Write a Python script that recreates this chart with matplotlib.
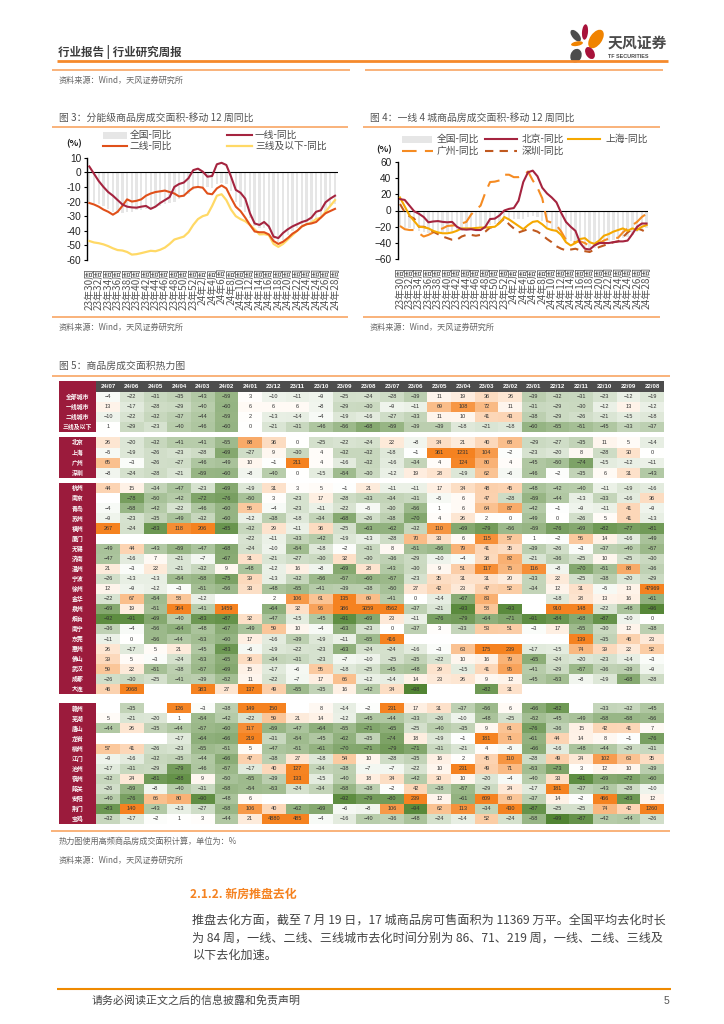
import numpy as np
import matplotlib
matplotlib.use("Agg")
import matplotlib.pyplot as plt
from matplotlib.colors import LinearSegmentedColormap, TwoSlopeNorm
from matplotlib.patches import Ellipse, Rectangle
from matplotlib.ticker import FuncFormatter

plt.rcParams['font.family'] = ['Noto Sans CJK SC', 'DejaVu Sans']
plt.rcParams['axes.unicode_minus'] = True
W, H = 724, 1024
NUM = ['Liberation Sans', 'Noto Sans CJK SC']

# ---------- chart data ----------
week_labels = ['23年30周','23年32周','23年34周','23年36周','23年38周','23年40周','23年42周','23年44周','23年46周',
               '23年48周','23年50周','23年52周','24年2周','24年4周','24年6周','24年8周','24年10周','24年12周',
               '24年14周','24年16周','24年18周','24年20周','24年22周','24年24周','24年24周','24年26周','24年28周']
national = [-20,-21,-22,-23,-25,-27,-28,-28,-27,-27,-26,-26,-25,-25,-24,-23,-22,-21,-20,-18,-17,-15,-12,-10,-10,-10,-11,-8,-7,-8,-13,-20,-24,-27,-31,-37,-38,-38,-39,-46,-48,-46,-43,-40,-38,-36,-35,-34,-32,-30,-27,-24,-22]
tier1 = [4,-1,-6,-10,-13.5,-16,-19,-22,-23.5,-24,-24.2,-23.5,-23,-25,-23.5,-21,-19,-17,-10,-8,-7,-4,1.5,2.5,0.5,-3,-2.5,5.5,6.5,5,-3,-12,-14,-18,-28,-35,-36,-34,-37,-44,-45,-41.5,-39,-37,-35.5,-34,-33,-31,-27,-26,-20.5,-18,-16]
tier2 = [-21,-22,-23.5,-25.5,-27,-29,-27,-23,-18.5,-20,-19.5,-18.5,-16,-14.5,-13.5,-13,-12.5,-13.5,-14.5,-16.5,-16,-13,-10.5,-10,-10.5,-14.5,-15,-11,-9,-11,-17.5,-23.5,-26.5,-31,-36,-40.5,-41,-41,-42.5,-47,-49,-47.5,-45,-42,-40,-37,-35.5,-35,-34,-31,-28,-26.5,-25]
tier3 = [-47,-48,-48.5,-49.3,-50.5,-52,-53.2,-53.5,-54.5,-56.3,-56,-55.3,-54.5,-53.7,-54,-53,-51.5,-49,-46,-45,-44,-41,-36,-32,-30,-29,-23,-16,-15,-19,-25.5,-30,-32,-33.5,-36,-39,-42.5,-42.3,-43,-49,-51,-49,-46,-43,-40,-37,-35.5,-34.5,-32,-31,-27,-23,-19]
beijing = [14,13,6,-1,-4,-8,-14.5,-13.5,-13,-14,-14.5,-14,-20,-23,-23.5,-23,-24,-24,-20,-10.5,-10,-6,0,2,3,12,35,47,49,42,28,21,16,10,-3,-14,-20,-25,-40,-47,-48,-43,-40,-40,-40,-39,-38,-38,-37,-29,-20,-16,-16]
shanghai = [16,5,-6,-13,-20,-20.5,-22,-25,-27,-28,-28,-27,-25,-22,-22,-22,-21.5,-21,-21,-20.5,-20,-15.5,-8,-11,-15,-19,-23,-18,-14,-13,-17,-22,-24,-25,-30,-39,-43,-40,-35,-34,-39,-41,-37,-31,-29,-26,-24,-22,-25,-22,-24,-20,-18]
guangzhou = [-19,-23,-24,-24,-28,-32,-30,-27,-24,-22,-19,-18.5,-18,-16,-14,-5,1,6,22,35,35.5,37,44,44,41,41,43,48,37,28,15,-13,-15,-18,-26,-36,-38,-39,-38,-40,-44,-43,-40,-37,-34.5,-34,-33.5,-27,-22,-18,-14,-8,-4]
shenzhen = [8,-2,-7,-10,-20,-20,-22,-26,-29,-32,-34,-36,-36,-32,-30,-30,-31,-30,-26,-21,-20,-15,-10,-17,-22,-27,-25,-23,-24,-26,-30,-35,-39,-44,-47,-49,-48,-47,-49,-50,-51,-48,-45,-43,-41,-39,-38,-33,-27,-23,-22,-24,-27]

# ---------- heat map data ----------
months = ['24/07','24/06','24/05','24/04','24/03','24/02','24/01','23/12','23/11','23/10','23/09','23/08','23/07','23/06','23/05','23/04','23/03','23/02','23/01','22/12','22/11','22/10','22/09','22/08']
n = None
group1_names = ['全部城市','一线城市','二线城市','三线及以下']
group1 = [[-4,-22,-31,-35,-43,-59,3,-10,-11,-9,-25,-24,-28,-39,11,19,36,26,-39,-32,-31,-23,-12,-19],
          [13,-17,-28,-29,-40,-60,6,6,6,-8,-29,-30,-9,-11,69,108,72,11,-31,-29,-30,-12,13,-12],
          [-10,-22,-32,-37,-44,-59,2,-13,-14,-4,-19,-16,-27,-33,11,10,41,43,-38,-29,-26,-21,-15,-18],
          [1,-29,-23,-40,-46,-60,0,-21,-31,-46,-56,-68,-59,-39,-39,-18,-21,-18,-60,-55,-51,-45,-33,-37]]
group2_names = ['北京','上海','广州','深圳']
group2 = [[26,-20,-32,-41,-41,-55,88,36,0,-25,-22,-24,22,-8,34,21,40,68,-29,-27,-35,11,5,-14],
          [-5,-19,-26,-23,-28,-69,-27,9,-30,4,-32,-32,-18,-1,361,1231,104,-2,-23,-20,8,-28,30,0],
          [65,-3,-26,-27,-46,-49,10,-1,211,4,-16,-32,-16,-34,4,124,80,4,-45,-50,-74,-15,-12,-11],
          [-8,-24,-28,-21,-59,-60,-8,-40,0,-15,-54,-30,-12,19,28,-19,62,-6,-46,-2,-35,6,31,-43]]
group3_names = ['杭州','南京','青岛','苏州','福州','厦门','无锡','济南','温州','宁波','徐州','金华','泉州','烟台','南宁','东莞','惠州','佛山','武汉','成都','大连']
group3 = [[44,15,-34,-47,-23,-69,-19,31,3,5,-1,21,-11,-11,17,34,48,45,-48,-42,-40,-11,-19,-16],
          [n,-78,-50,-42,-72,-76,-50,3,-23,17,-28,-33,-34,-31,-5,6,47,-28,-59,-44,-13,-33,-16,36],
          [-4,-58,-42,-22,-46,-60,56,-4,-23,-11,-22,-5,-30,-56,1,6,64,87,-42,-1,-9,-11,41,-9],
          [-9,-23,-35,-49,-32,-60,-12,-38,-18,-34,-68,-26,-38,-70,4,26,2,0,-49,0,-26,5,41,-13],
          [267,-24,-83,118,206,-85,-32,29,-11,36,-25,-63,-62,-32,110,-69,-79,-56,-59,-76,-69,-82,-77,-81],
          [n,n,n,n,n,n,-22,-11,-33,-42,-19,-13,-28,70,33,6,115,57,1,-2,56,14,-16,-49],
          [-49,44,-43,-59,-47,-68,-24,-10,-54,-18,-2,-31,8,-51,-56,79,41,35,-39,-26,-3,-37,-40,-57],
          [-47,-16,7,-21,-7,-67,31,-21,-27,-30,32,-30,-36,-29,-10,-4,38,82,-21,-36,-25,10,-25,-30],
          [21,-3,22,-21,-32,9,-48,-12,16,-8,-69,28,-43,-30,9,51,117,75,116,-8,-70,-51,88,-36],
          [-26,-13,-13,-54,-58,-75,39,-13,-32,-56,-57,-60,-57,-23,35,31,31,20,-33,22,-25,-38,-20,-29],
          [12,-9,-12,-3,-51,-56,33,-48,-55,-41,-39,-38,-50,27,42,23,47,52,-34,12,31,-5,13,47969],
          [-22,67,-54,58,-12,n,n,2,106,61,135,69,-41,0,-14,-67,83,n,n,-18,28,13,16,-61],
          [-69,19,-51,364,-41,1459,n,-64,32,96,386,3059,8562,-37,-21,-93,58,-93,n,910,148,-22,-48,-96],
          [-92,-91,-69,-40,-83,-87,32,-47,-15,-45,-91,-69,23,-11,-76,-79,-64,-71,-91,-84,-68,-87,-10,0],
          [-36,-4,-56,-64,-48,-67,-49,59,10,-4,-63,-23,0,-37,3,-33,53,51,-3,17,-55,-30,12,-38],
          [-11,0,-56,-44,-53,-60,17,-16,-39,-19,-11,-55,416,n,n,n,n,n,n,n,139,-35,46,23],
          [26,-17,5,21,-45,-83,-6,-19,-22,-23,-63,-24,-24,-16,-3,63,175,239,-17,-15,74,39,22,52],
          [39,5,-3,-24,-53,-65,36,-34,-31,-23,-7,-10,-25,-35,-22,10,16,79,-65,-24,-20,-23,-14,-3],
          [59,22,-51,-38,-57,-69,15,-17,-6,55,-18,-25,-45,-48,29,-15,41,95,-41,-29,-57,-36,-39,-9],
          [-26,-30,-25,-41,-39,-52,11,-22,-7,17,66,-12,-14,14,23,26,9,12,-45,-53,-8,-19,-68,-28],
          [46,2068,n,n,383,27,137,49,-55,-35,16,-42,34,-98,n,n,-82,31,n,n,n,n,n,n]]
group4_names = ['赣州','芜湖','唐山','龙岩','柳州','江门','池州','宿州','韶关','安阳','荆门','宝鸡']
group4 = [[n,-35,n,126,-3,-38,149,150,n,8,-14,-2,231,17,31,-37,-56,6,-66,-82,n,-33,-32,-45],
          [5,-21,-20,1,-54,-42,-22,59,21,14,-12,-45,-44,-33,-26,-10,-48,-25,-52,-45,-49,-58,-58,-56],
          [-44,26,-35,-44,-57,-60,117,-59,-47,-64,-55,-71,-65,-25,-40,-35,9,61,-76,-36,15,42,41,7],
          [n,n,n,-17,-64,-66,219,-31,-54,-45,-62,-35,-74,18,-19,-1,181,71,-61,44,14,8,-1,-76],
          [57,41,-26,-23,-55,-51,5,-47,-51,-61,-70,-71,-79,-71,-31,-21,4,-5,-66,-16,-48,-44,-29,-31],
          [-9,-16,-32,-35,-44,-66,47,-38,27,-18,54,10,-28,-35,16,2,45,110,-28,49,24,102,63,35],
          [-17,-31,-29,-79,-46,-57,-17,40,127,-34,-38,-7,-7,-22,10,231,49,71,-53,-73,3,12,10,-39],
          [-32,24,-81,-88,9,-50,-55,-39,133,-15,-40,18,34,-42,30,10,-20,-4,-40,33,-91,-69,-72,-60],
          [-26,-59,-8,-40,-31,-58,-54,-53,-24,-34,-58,-38,-2,42,-38,-57,-29,24,-17,181,-37,-43,-28,-10],
          [-40,-76,66,80,-90,-48,6,n,n,n,-92,-79,-80,239,12,-61,609,60,-37,14,-2,466,-83,12],
          [-83,140,-43,-13,-27,-58,106,40,-62,-69,-6,-8,106,-94,62,113,-34,430,-87,-25,-25,74,42,1260],
          [-32,-17,-2,1,3,-44,21,4880,485,-4,-16,-40,-36,-48,-24,-14,52,-24,-58,-99,-87,-42,-44,-26]]

# ---------- helpers ----------
fig = plt.figure(figsize=(W/100, H/100), dpi=100, facecolor='white')
bg = fig.add_axes([0, 0, 1, 1])
bg.set_xlim(0, W); bg.set_ylim(H, 0); bg.axis('off')

def px_axes(l, t, r, b):
    return fig.add_axes([l/W, 1-b/H, (r-l)/W, (b-t)/H])

def txt(x, y, s, size=6, color='#4a4a4a', weight='normal', ha='left', ax=bg, **k):
    ax.text(x, y, s, fontsize=size, color=color, fontweight=weight, ha=ha, va='center', **k)

def rule(x0, x1, y, color='#f9b27a', lw=1.4):
    bg.plot([x0, x1], [y, y], color=color, lw=lw, solid_capstyle='butt')

RED, ORN, YEL = '#a5243f', '#e0501a', '#ffd966'
SH, GZ, SZ = '#f5a800', '#f58b22', '#c0591f'
BAR = '#e6e6e6'

# ---------- page furniture ----------
txt(58, 52, '行业报告 | 行业研究周报', 8.3, '#3c3c3c', 'bold')
rule(57, 668, 61, '#f58a2c', 2.0)
rule(52, 350, 70); rule(365, 663, 70)
txt(59, 80, '资料来源：Wind，天风证券研究所', 5.9, '#666666')

# logo
bg.add_patch(Ellipse((585, 32), 6, 15.5, angle=5, color='#a8123a', lw=0))
bg.add_patch(Ellipse((596, 39), 12, 21, angle=35, color='#f08300', lw=0))
bg.add_patch(Ellipse((575.7, 35.7), 7, 14, angle=-40, color='#4d4d4d', lw=0))
bg.add_patch(Ellipse((577, 43.7), 12, 4.5, angle=-10, color='#f08300', lw=0))
bg.add_patch(Ellipse((576, 55.7), 11, 14, angle=20, color='#4d4d4d', lw=0))
bg.add_patch(Ellipse((590, 53), 8.5, 13, angle=-30, color='#a8123a', lw=0))
txt(608, 43, '天风证券', 10.7, '#4a4a4a', 'bold')
txt(608, 56, 'TF SECURITIES', 3.9, '#4a4a4a', 'bold', family=NUM)

# ---------- figure 3 ----------
txt(59, 117.7, '图 3：分能级商品房成交面积-移动 12 周同比', 7.1, '#555555')
rule(52, 348, 127.3)
ax3 = px_axes(87.3, 157.7, 337.7, 260)
x = np.arange(len(national))
ax3.bar(x, national, width=0.5, color=BAR, zorder=1)
ax3.axhline(0, color='black', lw=0.8, zorder=2)
ax3.plot(x, tier3, color=YEL, lw=1.6, zorder=3)
ax3.plot(x, tier2, color=ORN, lw=1.5, zorder=4)
ax3.plot(x, tier1, color=RED, lw=1.5, zorder=5)
ax3.set_xlim(-0.42, 52.57); ax3.set_ylim(-60, 10)
ax3.set_yticks([10, 0, -10, -20, -30, -40, -50, -60])
ax3.yaxis.set_major_formatter(FuncFormatter(lambda v, p: f'{int(v)}'))

# ---------- figure 4 ----------
txt(370, 117.7, '图 4：一线 4 城商品房成交面积-移动 12 周同比', 7.1, '#555555')
rule(363.3, 660, 127.3)
ax4 = px_axes(397.7, 161.7, 648, 259.3)
ax4.bar(x, national, width=0.5, color=BAR, zorder=1)
ax4.axhline(0, color='black', lw=0.8, zorder=2)
ax4.plot(x, guangzhou, color=GZ, lw=1.5, ls=(0, (7, 4)), zorder=3)
ax4.plot(x, shenzhen, color=SZ, lw=1.5, ls=(0, (4, 3)), zorder=4)
ax4.plot(x, shanghai, color=SH, lw=1.5, zorder=5)
ax4.plot(x, beijing, color=RED, lw=1.5, zorder=6)
ax4.set_xlim(-0.48, 52.3); ax4.set_ylim(-60, 60)
ax4.set_yticks([60, 40, 20, 0, -20, -40, -60])

for a in (ax3, ax4):
    a.patch.set_alpha(0)
    for s in ('top', 'right', 'bottom'):
        a.spines[s].set_visible(False)
    a.spines['left'].set_linewidth(1.0)
    a.tick_params(axis='y', length=2.5, width=0.8, pad=2, labelsize=7.3, labelcolor='#222222')
    for t in a.get_yticklabels():
        t.set_family(NUM)
    a.set_xticks(x[::2])
    a.set_xticklabels(week_labels, rotation=90, fontsize=7.2, color='#555555', va='top', ha='center', linespacing=1)
    a.tick_params(axis='x', length=0, pad=5.5)

# legends
LG = 7.0
bg.add_patch(Rectangle((103, 131.5), 24, 7, color=BAR, lw=0))
txt(130, 135, '全国-同比', LG)
bg.plot([227, 252], [135, 135], color=RED, lw=1.5)
txt(255, 135, '一线-同比', LG)
bg.plot([103, 127], [146, 146], color=ORN, lw=1.5)
txt(130, 146, '二线-同比', LG)
bg.plot([227, 252], [146, 146], color=YEL, lw=1.6)
txt(255, 146, '三线及以下-同比', LG)
txt(66, 144, '(%)', 6.6, '#222222', 'bold')

bg.add_patch(Rectangle((401.7, 135.5), 30, 7, color=BAR, lw=0))
txt(437, 139, '全国-同比', LG)
bg.plot([485, 517], [139, 139], color=RED, lw=1.5)
txt(522, 139, '北京-同比', LG)
bg.plot([568, 600], [139, 139], color=SH, lw=1.5)
txt(605, 139, '上海-同比', LG)
bg.plot([401.7, 433], [151, 151], color=GZ, lw=1.5, ls=(0, (7, 4)))
txt(437, 151, '广州-同比', LG)
bg.plot([485, 517], [151, 151], color=SZ, lw=1.5, ls=(0, (4, 3)))
txt(522, 151, '深圳-同比', LG)
txt(376, 150, '(%)', 6.6, '#222222', 'bold')

rule(52, 348, 317); rule(363.3, 660, 317)
txt(59, 327.7, '资料来源：Wind，天风证券研究所', 5.9, '#666666')
txt(370, 327.7, '资料来源：Wind，天风证券研究所', 5.9, '#666666')

# ---------- figure 5 heat map ----------
txt(59, 366, '图 5：商品房成交面积热力图', 7.1, '#555555')
rule(52, 670, 375.5)
cmap = LinearSegmentedColormap.from_list('hm', ['#4f8230', '#ffffff', '#f58220'])
cmap.set_bad('white')
norm = TwoSlopeNorm(vmin=-100, vcenter=0, vmax=130)
LEFT, RIGHT, LABEL_L = 96.3, 664, 59
CRIMSON = '#9b1b3c'

bg.add_patch(Rectangle((LEFT, 381), RIGHT-LEFT, 11, color='#4d4d4d', lw=0))
bg.add_patch(Rectangle((LABEL_L, 381), LEFT-LABEL_L, 11, color=CRIMSON, lw=0))
step = (RIGHT-LEFT)/len(months)
for i, m in enumerate(months):
    txt(LEFT+step*(i+.5), 386.6, m, 4.4, 'white', 'bold', ha='center', family=NUM)

def heat(names, rows, top, bottom):
    arr = np.array([[np.nan if v is None else v for v in r] for r in rows], float)
    ax = px_axes(LEFT, top, RIGHT, bottom)
    ax.pcolormesh(np.arange(arr.shape[1]+1), np.arange(arr.shape[0]+1), np.ma.masked_invalid(arr), cmap=cmap, norm=norm)
    ax.set_xlim(0, arr.shape[1]); ax.set_ylim(arr.shape[0], 0); ax.axis('off')
    for r in range(arr.shape[0]):
        for c in range(arr.shape[1]):
            if not np.isnan(arr[r, c]):
                ax.text(c+.5, r+.5, str(int(arr[r, c])).replace('-', '−'), fontsize=4.0, color='#333333',
                        ha='center', va='center', family=NUM)
    lab = px_axes(LABEL_L, top, LEFT, bottom)
    lab.set_facecolor(CRIMSON)
    lab.set_xlim(0, 1); lab.set_ylim(len(names), 0)
    lab.set_xticks([]); lab.set_yticks([])
    for s in lab.spines.values():
        s.set_visible(False)
    for r, nm in enumerate(names):
        lab.text(.5, r+.5, nm, color='white', fontsize=4.2, fontweight='bold', ha='center', va='center')

heat(group1_names, group1, 392, 431.7)
heat(group2_names, group2, 437.3, 478.3)
heat(group3_names, group3, 483.3, 694.3)
heat(group4_names, group4, 703.3, 824)

rule(51, 670, 830.7)
txt(59, 841.7, '热力图使用高频商品房成交面积计算，单位为：%', 5.9, '#666666')
txt(59, 860.7, '资料来源：Wind，天风证券研究所', 5.9, '#666666')

# ---------- body text ----------
txt(190, 894, '2.1.2. 新房推盘去化', 8.6, '#f58220', 'bold')
txt(192.5, 920, '推盘去化方面，截至 7 月 19 日，17 城商品房可售面积为 11369 万平。全国平均去化时长', 8.7, '#444444')
txt(192.5, 937.7, '为 84 周，一线、二线、三线城市去化时间分别为 86、71、219 周，一线、二线、三线及', 8.7, '#444444')
txt(192.5, 955, '以下去化加速。', 8.7, '#444444')
rule(57, 671, 989.3, '#ef8a00', 1.5)
txt(92, 1000.7, '请务必阅读正文之后的信息披露和免责声明', 7.9, '#444444')
txt(664, 1000.7, '5', 7.5, '#555555', family=NUM)

fig.savefig('out.png', dpi=100, facecolor='white')
